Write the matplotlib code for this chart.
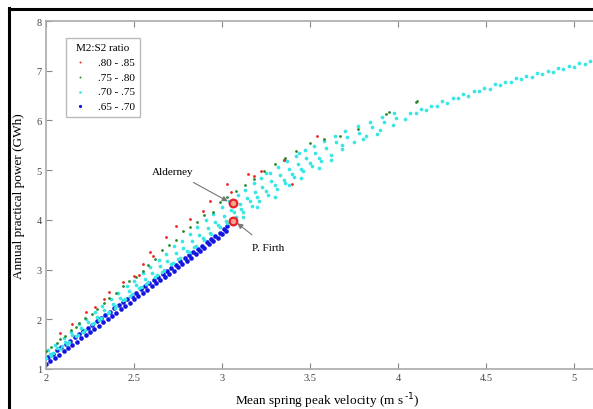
import matplotlib
matplotlib.use("Agg")
import matplotlib.pyplot as plt
from matplotlib.lines import Line2D

plt.rcParams['font.family'] = ['Liberation Serif', 'DejaVu Serif']

# ratio .65 - .70 (blue band)
blue_x = [2.000, 2.025, 2.050, 2.075, 2.100, 2.125, 2.150, 2.175, 2.200, 2.225,
          2.250, 2.275, 2.300, 2.325, 2.350, 2.375, 2.400, 2.425, 2.450, 2.475,
          2.500, 2.525, 2.550, 2.575, 2.600, 2.625, 2.650, 2.675, 2.700, 2.725,
          2.750, 2.775, 2.800, 2.825, 2.850, 2.875, 2.900, 2.925, 2.950, 2.975,
          3.000, 3.025,
          2.012, 2.038, 2.062, 2.088, 2.112, 2.138, 2.162, 2.188, 2.212, 2.238,
          2.262, 2.288, 2.312, 2.338, 2.362, 2.388, 2.412, 2.438, 2.462, 2.488,
          2.512, 2.538, 2.562, 2.588, 2.612, 2.638, 2.662, 2.688, 2.712, 2.738,
          2.762, 2.788, 2.812, 2.838, 2.862, 2.888, 2.912, 2.938, 2.962, 2.988,
          3.012, 3.030]
blue_y = [1.10, 1.16, 1.23, 1.29, 1.36, 1.42, 1.49, 1.55, 1.62, 1.68,
          1.74, 1.81, 1.87, 1.94, 2.00, 2.07, 2.13, 2.20, 2.26, 2.33,
          2.40, 2.46, 2.53, 2.59, 2.66, 2.72, 2.79, 2.85, 2.92, 2.98,
          3.05, 3.11, 3.18, 3.24, 3.31, 3.38, 3.44, 3.51, 3.58, 3.64,
          3.71, 3.78,
          1.25, 1.31, 1.38, 1.44, 1.51, 1.57, 1.64, 1.70, 1.77, 1.83,
          1.89, 1.96, 2.02, 2.09, 2.15, 2.22, 2.28, 2.34, 2.41, 2.47,
          2.53, 2.60, 2.66, 2.72, 2.79, 2.85, 2.91, 2.98, 3.04, 3.10,
          3.17, 3.23, 3.29, 3.36, 3.42, 3.48, 3.55, 3.61, 3.68, 3.74,
          3.81, 3.87]

# ratio .70 - .75 (cyan band)
cyan_x = [2.00, 2.04, 2.09, 2.13, 2.18, 2.22, 2.27, 2.31, 2.36, 2.40, 2.45, 2.49,
          2.54, 2.58, 2.63, 2.67, 2.72, 2.76, 2.81, 2.85, 2.90, 2.94, 2.99, 3.03,
          3.08, 3.12, 3.17, 3.21, 3.26, 3.31, 3.36, 3.41, 3.46, 3.51, 3.56, 3.62,
          3.68, 3.75, 3.82, 3.90, 3.97,
          2.02, 2.06, 2.11, 2.15, 2.20, 2.24, 2.29, 2.33, 2.38, 2.42, 2.47, 2.51,
          2.56, 2.60, 2.65, 2.69, 2.74, 2.78, 2.83, 2.87, 2.92, 2.96, 3.01, 3.05,
          3.10, 3.14, 3.19, 3.23, 3.28, 3.33, 3.38, 3.43, 3.48, 3.53, 3.59, 3.65,
          3.71, 3.78, 3.85, 3.92, 3.99,
          2.01, 2.05, 2.10, 2.14, 2.19, 2.23, 2.28, 2.32, 2.37, 2.41, 2.46, 2.50,
          2.55, 2.59, 2.64, 2.68, 2.73, 2.77, 2.82, 2.86, 2.91, 2.95, 3.00, 3.04,
          3.09, 3.13, 3.18, 3.22, 3.27, 3.32, 3.37, 3.42, 3.47, 3.52, 3.58, 3.64,
          3.70, 3.77, 3.84, 3.91, 3.98,
          2.03, 2.08, 2.12, 2.17, 2.21, 2.26, 2.30, 2.35, 2.39, 2.44, 2.48, 2.53,
          2.57, 2.62, 2.66, 2.71, 2.75, 2.80, 2.84, 2.89, 2.93, 2.98, 3.02, 3.07,
          3.11, 3.16, 3.20, 3.25, 3.30, 3.35, 3.40, 3.45, 3.50, 3.55,
          4.04, 4.10, 4.16, 4.22, 4.28, 4.34, 4.40, 4.46, 4.52, 4.58, 4.64, 4.70,
          4.76, 4.82, 4.88, 4.94, 5.00, 5.06, 5.12,
          4.07, 4.13, 4.19, 4.25, 4.31, 4.37, 4.43, 4.49, 4.55, 4.61, 4.67, 4.73,
          4.79, 4.85, 4.91, 4.97, 5.03, 5.09, 5.14,
          3.12, 3.20, 3.30, 3.38, 3.45, 3.55, 3.62, 3.25, 3.35, 3.44, 3.68, 3.80,
          3.88]
cyan_y = [1.22, 1.33, 1.46, 1.55, 1.68, 1.78, 1.92, 2.02, 2.15, 2.27, 2.40, 2.50,
          2.64, 2.75, 2.89, 3.00, 3.13, 3.24, 3.36, 3.48, 3.60, 3.72, 3.85, 3.93,
          4.05, 4.15, 4.28, 4.38, 4.50, 4.62, 4.74, 4.86, 4.98, 5.08, 5.18, 5.30,
          5.42, 5.56, 5.68, 5.80, 5.91,
          1.31, 1.42, 1.54, 1.69, 1.82, 1.94, 2.05, 2.19, 2.31, 2.43, 2.57, 2.68,
          2.82, 2.93, 3.07, 3.18, 3.33, 3.44, 3.57, 3.69, 3.83, 3.95, 4.08, 4.20,
          4.31, 4.43, 4.57, 4.66, 4.79, 4.90, 5.02, 5.12, 5.25, 5.34, 5.44, 5.56,
          5.66, 5.75, 5.86, 5.96, 6.04,
          1.38, 1.49, 1.62, 1.74, 1.90, 2.01, 2.15, 2.27, 2.40, 2.52, 2.67, 2.78,
          2.93, 3.05, 3.20, 3.32, 3.47, 3.58, 3.72, 3.86, 4.00, 4.12, 4.25, 4.38,
          4.49, 4.60, 4.74, 4.84, 4.95, 5.07, 5.18, 5.28, 5.40, 5.48, 5.58, 5.68,
          5.78, 5.88, 5.97, 6.06, 6.14,
          1.27, 1.41, 1.50, 1.66, 1.75, 1.90, 1.98, 2.13, 2.22, 2.38, 2.47, 2.62,
          2.70, 2.86, 2.96, 3.12, 3.21, 3.38, 3.46, 3.63, 3.73, 3.90, 3.97, 4.15,
          4.22, 4.37, 4.45, 4.58, 4.70, 4.81, 4.93, 5.03, 5.14, 5.24,
          6.03, 6.15, 6.20, 6.30, 6.36, 6.46, 6.50, 6.60, 6.64, 6.72, 6.77, 6.83,
          6.88, 6.94, 6.98, 7.04, 7.07, 7.13, 7.17,
          6.14, 6.22, 6.30, 6.39, 6.45, 6.53, 6.60, 6.66, 6.73, 6.78, 6.85, 6.90,
          6.96, 7.00, 7.06, 7.10, 7.15, 7.19, 7.23,
          4.05, 4.25, 4.45, 4.70, 4.85, 5.05, 5.20, 4.95, 5.20, 5.35, 5.50, 5.62,
          5.72]

# ratio .75 - .80 (green)
green_x = [2.00, 2.03, 2.06, 2.08, 2.11, 2.14, 2.17, 2.19, 2.22, 2.26, 2.29, 2.33,
           2.36, 2.40, 2.44, 2.47, 2.51, 2.55, 2.58, 2.62, 2.66, 2.70, 2.74, 2.78,
           2.82, 2.86, 2.90, 2.95, 2.99, 3.03, 3.08, 3.13, 3.18, 3.24, 3.30, 3.36,
           3.42, 3.50, 3.58, 3.67, 3.77, 3.93, 3.95, 4.10, 4.11]
green_y = [1.36, 1.45, 1.52, 1.60, 1.66, 1.78, 1.84, 1.93, 2.02, 2.10, 2.20, 2.33,
           2.42, 2.52, 2.66, 2.78, 2.85, 2.98, 3.10, 3.22, 3.40, 3.50, 3.60, 3.77,
           3.85, 3.96, 4.10, 4.16, 4.35, 4.45, 4.58, 4.70, 4.82, 4.98, 5.12, 5.24,
           5.38, 5.55, 5.62, 5.69, 5.83, 6.13, 6.16, 6.37, 6.40]

# ratio .80 - .85 (red)
red_x = [2.08, 2.15, 2.23, 2.28, 2.33, 2.36, 2.44, 2.50, 2.53, 2.55, 2.59, 2.61,
         2.68, 2.74, 2.82, 2.89, 2.93, 3.03, 3.05, 3.15, 3.22, 3.18, 3.35, 3.54,
         3.40]
red_y = [1.72, 1.90, 2.14, 2.25, 2.40, 2.55, 2.75, 2.87, 2.90, 3.11, 3.35, 3.27,
         3.65, 3.88, 4.02, 4.18, 4.38, 4.72, 4.56, 4.92, 4.98, 4.88, 5.20, 5.69,
         4.72]

sites = ['Alderney', 'P. Firth']
site_x = [3.06, 3.06]
site_y = [4.33, 3.98]

fig = plt.figure(figsize=(5.93, 4.10), dpi=100)
ax = fig.add_axes([46/593, 40/410, 3.2*176/593, 348/410])

ax.scatter(blue_x, blue_y, s=11, c='#1414e0', marker='o', linewidths=0, label='.65 - .70', zorder=2)
ax.scatter(cyan_x, cyan_y, s=7, c='#38e6e6', marker='o', linewidths=0, label='.70 - .75', zorder=3)
ax.scatter(green_x, green_y, s=4, c='#2a8a2a', marker='o', linewidths=0, label='.75 - .80', zorder=4)
ax.scatter(red_x, red_y, s=4, c='#ee2020', marker='o', linewidths=0, label='.80 - .85', zorder=5)

ax.plot(site_x, site_y, 'o', ms=5.5, mfc='#f2a58c', mec='#e8202a', mew=1.6, ls='none', zorder=6)

ax.annotate(sites[0], xy=(site_x[0] - 0.02, site_y[0] + 0.03), xytext=(2.72, 4.98),
            ha='center', va='center', fontsize=8,
            arrowprops=dict(arrowstyle='-|>', color='#777777', lw=0.8, shrinkA=6, shrinkB=1,
                            mutation_scale=8))
ax.annotate(sites[1], xy=(site_x[1] + 0.02, site_y[1] - 0.03), xytext=(3.26, 3.45),
            ha='center', va='center', fontsize=8,
            arrowprops=dict(arrowstyle='-|>', color='#777777', lw=0.8, shrinkA=6, shrinkB=1,
                            mutation_scale=8))

ax.set_xlim(2, 5.2)
ax.set_ylim(1, 8)
ax.set_xticks([2, 2.5, 3, 3.5, 4, 4.5, 5])
ax.set_xticklabels(['2', '2.5', '3', '3.5', '4', '4.5', '5'])
ax.set_yticks([1, 2, 3, 4, 5, 6, 7, 8])
ax.tick_params(direction='in', length=4, width=0.8, color='#888888', labelcolor='#444444',
               labelsize=7.5, top=True, right=True, pad=3)
for sp in ax.spines.values():
    sp.set_color('#aaaaaa')
    sp.set_linewidth(1.2)

ax.set_xlabel('Mean spring peak velocity (m s$^{\\,\\text{-}1}$)', fontsize=9.5, labelpad=6)
ax.set_ylabel('Annual practical power (GWh)', fontsize=9.5, labelpad=8)

handles, labels = ax.get_legend_handles_labels()
leg = ax.legend(handles[::-1], labels[::-1], title='M2:S2 ratio', loc='upper left',
                bbox_to_anchor=(60/593, 1 - 33/410), bbox_transform=fig.transFigure,
                fontsize=8, title_fontsize=8, frameon=True, fancybox=False,
                edgecolor='#aaaaaa', markerscale=0.7, handletextpad=0.8, borderpad=0.5,
                labelspacing=0.45, handlelength=1.6)
leg.get_frame().set_linewidth(1.0)

fig.add_artist(Line2D([9/593, 9/593], [0, 1 - 9/410], transform=fig.transFigure, color='k', lw=2.2))
fig.add_artist(Line2D([9/593, 1], [1 - 10/410, 1 - 10/410], transform=fig.transFigure, color='k', lw=2.2))

fig.savefig('out.png', dpi=100)
